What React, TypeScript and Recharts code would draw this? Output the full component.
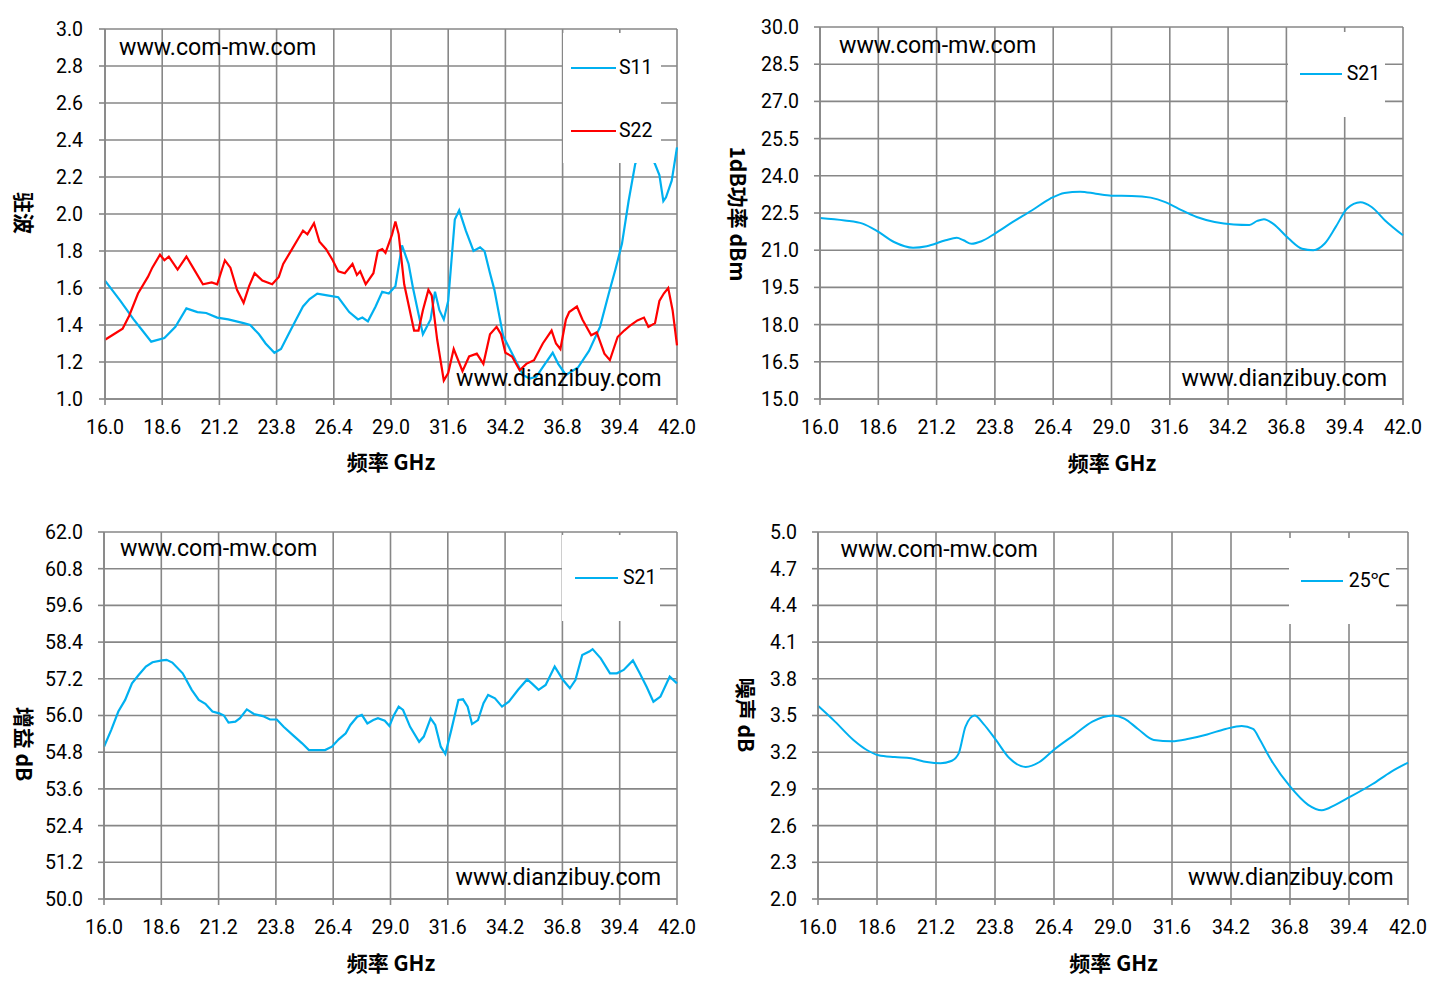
import React from 'react';
import { LineChart, Line, XAxis, YAxis, CartesianGrid, Legend } from 'recharts';

// ---------- tick labels ----------
const freqTicks = [16.0, 18.6, 21.2, 23.8, 26.4, 29.0, 31.6, 34.2, 36.8, 39.4, 42.0];
const vswrTicks = [1.0, 1.2, 1.4, 1.6, 1.8, 2.0, 2.2, 2.4, 2.6, 2.8, 3.0];
const p1dbTicks = [15.0, 16.5, 18.0, 19.5, 21.0, 22.5, 24.0, 25.5, 27.0, 28.5, 30.0];
const gainTicks = [50.0, 51.2, 52.4, 53.6, 54.8, 56.0, 57.2, 58.4, 59.6, 60.8, 62.0];
const nfTicks = [2.0, 2.3, 2.6, 2.9, 3.2, 3.5, 3.8, 4.1, 4.4, 4.7, 5.0];

// ---------- chart 1: VSWR ----------
const s11Freq = [16.0, 16.7, 17.3, 17.7, 18.1, 18.7, 19.2, 19.7, 20.2, 20.6, 21.1, 21.6, 22.3, 22.6, 23.0, 23.3, 23.7, 24.0, 24.3, 24.6, 25.0, 25.3, 25.65, 26.1, 26.6, 27.1, 27.5, 27.7, 27.95, 28.3, 28.6, 28.9, 29.2, 29.5, 29.8, 30.0, 30.25, 30.45, 30.8, 31.0, 31.2, 31.4, 31.6, 31.75, 31.9, 32.1, 32.4, 32.75, 33.05, 33.25, 33.5, 33.7, 34.1, 34.4, 34.7, 35.0, 35.3, 35.6, 36.0, 36.35, 36.6, 36.95, 37.5, 38.0, 38.5, 38.9, 39.2, 39.5, 39.8, 40.1, 40.4, 40.7, 41.0, 41.2, 41.38, 41.5, 41.76, 42.0];
const s11Vswr = [1.64, 1.53, 1.43, 1.37, 1.31, 1.33, 1.39, 1.49, 1.47, 1.465, 1.44, 1.43, 1.41, 1.40, 1.35, 1.30, 1.25, 1.27, 1.34, 1.41, 1.50, 1.54, 1.57, 1.56, 1.55, 1.47, 1.43, 1.44, 1.42, 1.50, 1.58, 1.57, 1.61, 1.83, 1.73, 1.60, 1.46, 1.35, 1.43, 1.58, 1.48, 1.43, 1.53, 1.75, 1.97, 2.02, 1.91, 1.80, 1.82, 1.80, 1.68, 1.59, 1.34, 1.27, 1.20, 1.13, 1.11, 1.12, 1.19, 1.25, 1.19, 1.13, 1.17, 1.26, 1.39, 1.57, 1.70, 1.84, 2.07, 2.27, 2.36, 2.34, 2.27, 2.21, 2.07, 2.09, 2.18, 2.36];
const s22Freq = [16.0, 16.4, 16.8, 17.1, 17.5, 17.95, 18.15, 18.5, 18.7, 18.9, 19.3, 19.7, 20.0, 20.45, 20.85, 21.1, 21.45, 21.7, 22.0, 22.3, 22.55, 22.8, 23.15, 23.6, 23.9, 24.1, 24.4, 24.8, 25.0, 25.2, 25.5, 25.75, 26.05, 26.35, 26.6, 26.9, 27.25, 27.45, 27.6, 27.85, 28.2, 28.4, 28.6, 28.75, 29.05, 29.2, 29.35, 29.6, 30.05, 30.25, 30.45, 30.7, 30.85, 31.1, 31.4, 31.6, 31.85, 32.25, 32.55, 32.9, 33.2, 33.5, 33.8, 34.0, 34.2, 34.5, 34.85, 35.15, 35.5, 35.9, 36.3, 36.5, 36.7, 36.95, 37.1, 37.45, 37.7, 38.1, 38.35, 38.7, 38.95, 39.3, 39.6, 39.9, 40.2, 40.5, 40.7, 41.0, 41.2, 41.4, 41.6, 41.8, 42.0];
const s22Vswr = [1.32, 1.35, 1.38, 1.45, 1.57, 1.66, 1.71, 1.78, 1.75, 1.77, 1.70, 1.77, 1.71, 1.62, 1.63, 1.62, 1.75, 1.71, 1.59, 1.52, 1.61, 1.68, 1.64, 1.62, 1.66, 1.73, 1.79, 1.87, 1.91, 1.89, 1.95, 1.85, 1.81, 1.75, 1.69, 1.68, 1.73, 1.67, 1.69, 1.62, 1.68, 1.80, 1.81, 1.79, 1.89, 1.96, 1.89, 1.62, 1.37, 1.37, 1.48, 1.59, 1.56, 1.32, 1.10, 1.14, 1.27, 1.15, 1.23, 1.245, 1.19, 1.35, 1.39, 1.35, 1.25, 1.23, 1.155, 1.19, 1.21, 1.30, 1.37, 1.30, 1.27, 1.43, 1.47, 1.50, 1.43, 1.345, 1.36, 1.245, 1.21, 1.335, 1.37, 1.40, 1.425, 1.44, 1.39, 1.41, 1.53, 1.57, 1.60, 1.48, 1.29];

// ---------- chart 2: P1dB ----------
const p1dbFreq = [16.0, 17.1, 17.9, 18.5, 19.3, 20.15, 20.76, 21.6, 22.1, 22.4, 22.76, 23.2, 23.8, 24.6, 25.46, 26.27, 26.9, 27.6, 28.3, 29.0, 29.9, 30.75, 31.4, 32.0, 32.8, 33.6, 34.45, 35.15, 35.5, 35.8, 36.2, 36.9, 37.5, 38.0, 38.5, 39.0, 39.5, 40.1, 40.6, 41.2, 42.0];
const p1dbVals = [22.30, 22.20, 22.07, 21.80, 21.33, 21.10, 21.16, 21.40, 21.50, 21.40, 21.26, 21.36, 21.67, 22.14, 22.61, 23.08, 23.31, 23.36, 23.28, 23.20, 23.19, 23.12, 22.94, 22.67, 22.34, 22.14, 22.04, 22.02, 22.18, 22.25, 22.07, 21.47, 21.06, 21.00, 21.26, 21.94, 22.67, 22.93, 22.74, 22.20, 21.60];

// ---------- chart 3: Gain ----------
const gainFreq = [16.0, 16.33, 16.65, 16.96, 17.27, 17.58, 17.9, 18.2, 18.63, 18.84, 19.1, 19.57, 19.98, 20.3, 20.6, 20.92, 21.23, 21.44, 21.65, 21.96, 22.17, 22.48, 22.8, 23.21, 23.53, 23.84, 24.15, 24.57, 24.99, 25.3, 25.6, 26.03, 26.34, 26.65, 26.97, 27.18, 27.49, 27.7, 27.95, 28.22, 28.43, 28.74, 28.95, 29.16, 29.37, 29.57, 29.89, 30.3, 30.51, 30.82, 31.03, 31.28, 31.49, 31.76, 32.08, 32.29, 32.5, 32.7, 32.97, 33.22, 33.43, 33.74, 34.06, 34.37, 34.79, 35.2, 35.41, 35.72, 36.04, 36.45, 36.83, 37.14, 37.39, 37.7, 38.02, 38.17, 38.54, 38.96, 39.27, 39.58, 40.0, 40.31, 40.62, 40.93, 41.25, 41.67, 42.0];
const gainVals = [54.98, 55.53, 56.13, 56.51, 57.05, 57.33, 57.60, 57.74, 57.80, 57.82, 57.73, 57.38, 56.84, 56.51, 56.38, 56.13, 56.07, 56.00, 55.77, 55.80, 55.91, 56.20, 56.05, 55.98, 55.87, 55.87, 55.63, 55.36, 55.09, 54.87, 54.87, 54.87, 54.98, 55.22, 55.42, 55.69, 55.96, 56.02, 55.74, 55.85, 55.91, 55.83, 55.66, 56.02, 56.29, 56.18, 55.63, 55.14, 55.31, 55.91, 55.69, 54.98, 54.74, 55.53, 56.51, 56.53, 56.29, 55.72, 55.85, 56.40, 56.67, 56.56, 56.29, 56.45, 56.84, 57.18, 57.05, 56.84, 57.00, 57.60, 57.16, 56.89, 57.16, 57.98, 58.09, 58.17, 57.87, 57.38, 57.38, 57.49, 57.80, 57.38, 56.94, 56.45, 56.62, 57.27, 57.05];

// ---------- chart 4: Noise figure ----------
const nfFreq = [16.0, 16.75, 17.56, 18.17, 18.67, 19.38, 20.1, 20.8, 21.4, 21.9, 22.2, 22.5, 22.9, 23.3, 23.84, 24.44, 25.15, 25.76, 26.37, 27.28, 28.09, 29.0, 29.5, 30.1, 30.8, 31.6, 32.34, 33.15, 33.96, 34.67, 35.17, 35.48, 35.89, 36.8, 37.6, 38.2, 38.8, 39.4, 40.44, 41.25, 42.0];
const nfVals = [3.579, 3.45, 3.30, 3.216, 3.175, 3.16, 3.15, 3.12, 3.11, 3.13, 3.19, 3.41, 3.50, 3.43, 3.30, 3.15, 3.08, 3.12, 3.216, 3.34, 3.45, 3.50, 3.475, 3.39, 3.30, 3.29, 3.31, 3.345, 3.39, 3.415, 3.39, 3.30, 3.16, 2.92, 2.77, 2.725, 2.77, 2.83, 2.94, 3.04, 3.115];

// ---------- tables built from the arrays ----------
function mergeTwo(fa: number[], va: number[], ka: string, fb: number[], vb: number[], kb: string) {
  const map = new Map<number, any>();
  fa.forEach((f, i) => { const r = map.get(f) || { f }; r[ka] = va[i]; map.set(f, r); });
  fb.forEach((f, i) => { const r = map.get(f) || { f }; r[kb] = vb[i]; map.set(f, r); });
  return Array.from(map.values()).sort((a, b) => a.f - b.f);
}
const single = (fs: number[], vs: number[]) => fs.map((f, i) => ({ f, v: vs[i] }));

const vswrData = mergeTwo(s11Freq, s11Vswr, 's11', s22Freq, s22Vswr, 's22');
const p1dbData = single(p1dbFreq, p1dbVals);
const gainData = single(gainFreq, gainVals);
const nfData = single(nfFreq, nfVals);

// ---------- styles ----------
const GRID = '#878787';
const BLUE = '#00B0F0';
const RED = '#FF0000';
const LATIN = 'Roboto, "Noto Sans", sans-serif';
const CJK = '"Noto Sans CJK SC", Roboto, sans-serif';
const W = 720;
const H = 494;
const YW = 60;
const XH = 40;
const WM_SIZE = 23.2;

type LegendCfg = { x: number; y: number; w: number; h: number; lineX: number; lineW: number; textX: number; itemY: number[] };

const makeLegend = (cfg: LegendCfg) => (props: any) => {
  const payload = props.payload || [];
  return (
    <div style={{ position: 'relative', width: cfg.w, height: cfg.h, background: '#fff' }}>
      {payload.map((p: any, i: number) => (
        <div key={i} style={{ position: 'absolute', left: 0, top: cfg.itemY[i], height: 0 }}>
          <div style={{ position: 'absolute', left: cfg.lineX, top: -1, width: cfg.lineW, height: 2, background: p.color }} />
          <span style={{ position: 'absolute', left: cfg.textX, top: -11, fontSize: 19.5, lineHeight: '22px', fontFamily: LATIN, whiteSpace: 'nowrap', color: '#000' }}>{p.value}</span>
        </div>
      ))}
    </div>
  );
};

type Series = { key: string; name: string; color: string; curve: 'linear' | 'monotone'; width: number };
type PanelProps = {
  left: number; top: number;
  plot: { l: number; t: number; r: number; b: number };
  data: any[]; series: Series[];
  yDomain: [number, number]; yTicks: number[]; yMargin: number;
  yTitle: string; yTitlePos: [number, number];
  xTitlePos: [number, number];
  wm1: [number, number]; wm2: [number, number];
  legend: LegendCfg;
};

const fmt = (v: number) => v.toFixed(1);

function Panel(p: PanelProps) {
  const margin = { top: p.plot.t, left: p.plot.l - YW, right: W - p.plot.r, bottom: H - p.plot.b - XH };
  const tick = { fontSize: 19.5, fill: '#000', fontFamily: LATIN };
  return (
    <div style={{ position: 'absolute', left: p.left, top: p.top, width: W, height: H }}>
      <LineChart width={W} height={H} data={p.data} margin={margin}>
        <CartesianGrid stroke={GRID} strokeWidth={1.6} />
        <XAxis
          dataKey="f" type="number" domain={[16, 42]} ticks={freqTicks} interval={0}
          tickFormatter={fmt} height={XH} tickSize={6} tickMargin={15}
          axisLine={{ stroke: GRID, strokeWidth: 1.6 }} tickLine={{ stroke: GRID, strokeWidth: 1.6 }} tick={tick}
        />
        <YAxis
          type="number" domain={p.yDomain} ticks={p.yTicks} interval={0}
          tickFormatter={fmt} width={YW} tickSize={6} tickMargin={p.yMargin}
          axisLine={{ stroke: GRID, strokeWidth: 1.6 }} tickLine={{ stroke: GRID, strokeWidth: 1.6 }} tick={tick}
        />
        {p.series.map((s) => (
          <Line key={s.key} dataKey={s.key} name={s.name} type={s.curve} stroke={s.color}
            strokeWidth={s.width} dot={false} activeDot={false} connectNulls isAnimationActive={false} />
        ))}
        <Legend
          layout="vertical" align="center" verticalAlign="middle"
          wrapperStyle={{ left: p.legend.x, top: p.legend.y, width: p.legend.w, height: p.legend.h, background: '#fff', margin: 0, padding: 0 }}
          content={makeLegend(p.legend)}
        />
      </LineChart>
      <div style={{ position: 'absolute', left: p.wm1[0], top: p.wm1[1], transform: 'translateY(-50%)', fontSize: WM_SIZE, lineHeight: 1, fontFamily: LATIN, whiteSpace: 'nowrap', color: '#000' }}>www.com-mw.com</div>
      <div style={{ position: 'absolute', left: p.wm2[0], top: p.wm2[1], transform: 'translateY(-50%)', fontSize: WM_SIZE, lineHeight: 1, fontFamily: LATIN, whiteSpace: 'nowrap', color: '#000' }}>www.dianzibuy.com</div>
      <div style={{ position: 'absolute', left: p.xTitlePos[0], top: p.xTitlePos[1], transform: 'translate(-50%, -50%)', fontSize: 21, fontWeight: 'bold', lineHeight: 1, fontFamily: CJK, whiteSpace: 'nowrap', color: '#000' }}>频率 GHz</div>
      <div style={{ position: 'absolute', left: p.yTitlePos[0], top: p.yTitlePos[1], transform: 'translate(-50%, -50%) rotate(90deg)', fontSize: 21, fontWeight: 'bold', lineHeight: 1, fontFamily: CJK, whiteSpace: 'nowrap', color: '#000' }}>{p.yTitle}</div>
    </div>
  );
}

export default function App() {
  return (
    <div style={{ position: 'absolute', left: 0, top: 0, width: 1441, height: 988, background: '#fff', overflow: 'hidden' }}>
      <Panel
        left={0} top={0}
        plot={{ l: 105, t: 29, r: 677, b: 399 }}
        data={vswrData}
        series={[
          { key: 's11', name: 'S11', color: BLUE, curve: 'linear', width: 2.2 },
          { key: 's22', name: 'S22', color: RED, curve: 'linear', width: 2.2 },
        ]}
        yDomain={[1, 3]} yTicks={vswrTicks} yMargin={16}
        yTitle="驻波" yTitlePos={[24, 213]} xTitlePos={[391, 461]}
        wm1={[119, 48]} wm2={[456, 379]}
        legend={{ x: 563, y: 33, w: 98, h: 130, lineX: 8, lineW: 45, textX: 56, itemY: [35, 97.5] }}
      />
      <Panel
        left={720} top={0}
        plot={{ l: 100, t: 27, r: 683, b: 399 }}
        data={p1dbData}
        series={[{ key: 'v', name: 'S21', color: BLUE, curve: 'monotone', width: 2 }]}
        yDomain={[15, 30]} yTicks={p1dbTicks} yMargin={15}
        yTitle="1dB功率 dBm" yTitlePos={[18, 214]} xTitlePos={[392, 462]}
        wm1={[119, 46]} wm2={[461.5, 379]}
        legend={{ x: 568, y: 32, w: 97, h: 85, lineX: 11.5, lineW: 42.5, textX: 58.7, itemY: [41.5] }}
      />
      <Panel
        left={0} top={494}
        plot={{ l: 104, t: 38, r: 677, b: 405 }}
        data={gainData}
        series={[{ key: 'v', name: 'S21', color: BLUE, curve: 'linear', width: 2.2 }]}
        yDomain={[50, 62]} yTicks={gainTicks} yMargin={15}
        yTitle="增益 dB" yTitlePos={[24, 250]} xTitlePos={[391, 467.5]}
        wm1={[120, 55]} wm2={[455.5, 384]}
        legend={{ x: 562, y: 41, w: 98, h: 86, lineX: 13, lineW: 43, textX: 61, itemY: [43.3] }}
      />
      <Panel
        left={720} top={494}
        plot={{ l: 98, t: 38, r: 688, b: 405 }}
        data={nfData}
        series={[{ key: 'v', name: '25℃', color: BLUE, curve: 'monotone', width: 2 }]}
        yDomain={[2, 5]} yTicks={nfTicks} yMargin={15}
        yTitle="噪声 dB" yTitlePos={[25.5, 220.6]} xTitlePos={[393.6, 467.5]}
        wm1={[120.5, 56]} wm2={[468, 384]}
        legend={{ x: 569, y: 44, w: 107, h: 86, lineX: 11.6, lineW: 42.4, textX: 59.7, itemY: [42.6] }}
      />
    </div>
  );
}
